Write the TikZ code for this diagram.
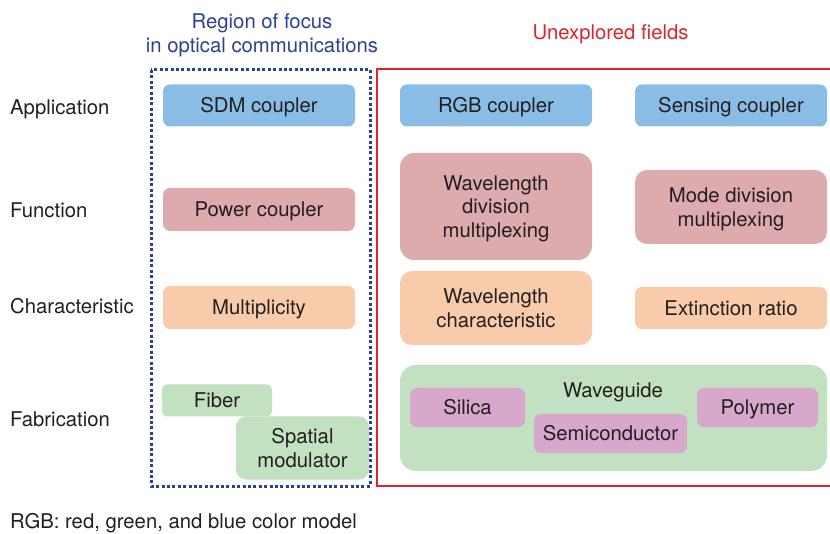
\documentclass[tikz,border=0pt]{standalone}
\usepackage{fontspec}
\setmainfont{TeX Gyre Heros}
\definecolor{cblue}{RGB}{138,189,230}
\definecolor{cred}{RGB}{221,170,173}
\definecolor{corange}{RGB}{248,204,171}
\definecolor{cgreen}{RGB}{193,225,193}
\definecolor{cpurple}{RGB}{216,168,204}
\definecolor{txt}{RGB}{35,31,32}
\definecolor{hblue}{RGB}{46,64,145}
\definecolor{hred}{RGB}{218,37,45}
\newcommand{\lblfont}{\fontsize{20.3}{23.5}\selectfont}
\tikzset{
  bx/.style={rounded corners=7pt, align=center, inner sep=0pt, text=txt, font=\lblfont, draw=none, text height=14.6pt, text depth=0pt},
  twoline/.style={text height=38.1pt},
  threeline/.style={text height=61.6pt},
  rowlbl/.style={anchor=base west, inner sep=0pt, text=txt, font=\lblfont},
  hdr/.style={anchor=base, align=center, inner sep=0pt, font=\lblfont}
}
\begin{document}
\begin{tikzpicture}[x=1pt,y=-1pt]
\useasboundingbox (0,0) rectangle (830,534);
% headers
\node[hdr, text=hblue, font=\fontsize{20.3}{24.7}\selectfont] (hfocus) at (262,53) {Region of focus\\in optical communications};
\node[hdr, text=hred] (hunexp) at (610.5,40) {Unexplored fields};
% frames
\draw[hblue, line width=3pt, dash pattern=on 3pt off 2.4pt] (151,70) rectangle (370,486);
\draw[hred, line width=2.8pt] (377,69) rectangle (845,486);
% row labels
\node[rowlbl] (lapp) at (10,115) {Application};
\node[rowlbl] (lfun) at (10,217.3) {Function};
\node[rowlbl] (lchar) at (10,314) {Characteristic};
\node[rowlbl] (lfab) at (10,426) {Fabrication};
% left column
\node[bx, fill=cblue, minimum width=192pt, minimum height=42pt] (sdm) at (259,105.5) {SDM coupler};
\node[bx, fill=cred, minimum width=192pt, minimum height=43pt] (power) at (259,209.5) {Power coupler};
\node[bx, fill=corange, minimum width=192pt, minimum height=43pt] (mult) at (259,307.5) {Multiplicity};
\node[bx, fill=cgreen, minimum width=110pt, minimum height=32pt, rounded corners=5pt] (fiber) at (217,400.5) {Fiber};
\node[bx, twoline, fill=cgreen, minimum width=133pt, minimum height=63pt, rounded corners=10pt] (spatial) at (302.5,448) {Spatial\\modulator};
% right area
\node[bx, fill=cblue, minimum width=192pt, minimum height=42pt] (rgb) at (496,105.5) {RGB coupler};
\node[bx, fill=cblue, minimum width=192pt, minimum height=42pt] (sens) at (731,105.5) {Sensing coupler};
\node[bx, threeline, fill=cred, minimum width=192pt, minimum height=107pt, rounded corners=14pt] (wdm) at (496,206.5) {Wavelength\\division\\multiplexing};
\node[bx, twoline, fill=cred, minimum width=192pt, minimum height=74pt, rounded corners=12pt] (mdm) at (731,207) {Mode division\\multiplexing};
\node[bx, twoline, fill=corange, minimum width=192pt, minimum height=74pt, rounded corners=12pt] (wchar) at (496,308) {Wavelength\\characteristic};
\node[bx, fill=corange, minimum width=192pt, minimum height=42pt] (ext) at (731,308) {Extinction ratio};
\node[bx, fill=cgreen, minimum width=427pt, minimum height=106pt, rounded corners=16pt] (wg) at (613.5,418) {};
\node[anchor=base, inner sep=0pt, text=txt, font=\lblfont] (wgt) at (613,397.7) {Waveguide};
\node[bx, fill=cpurple, minimum width=115pt, minimum height=39pt] (silica) at (467.5,407.5) {Silica};
\node[bx, fill=cpurple, minimum width=153pt, minimum height=39pt] (semi) at (610.5,433.5) {Semiconductor};
\node[bx, fill=cpurple, minimum width=121pt, minimum height=39pt] (poly) at (757.5,407.5) {Polymer};
% footnote
\node[rowlbl] (foot) at (10,528.3) {RGB: red, green, and blue color model};
\end{tikzpicture}
\end{document}
